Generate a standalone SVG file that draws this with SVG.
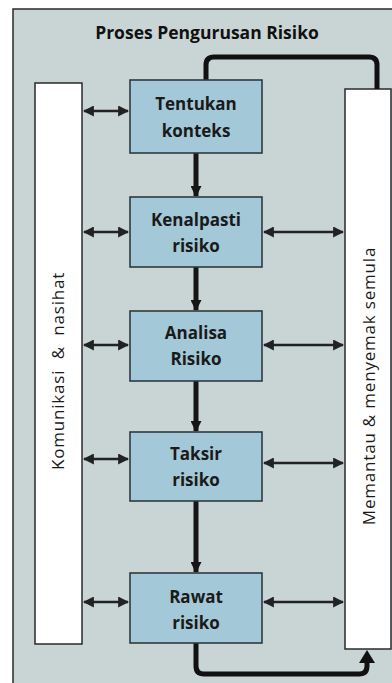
<svg xmlns="http://www.w3.org/2000/svg" width="392" height="683" viewBox="0 0 392 683">
<style>
.frame{fill:#c9d5d5;stroke:#2a2a2a;stroke-width:1.5}
.side{fill:#ffffff;stroke:#2a2a2a;stroke-width:1.5}
.box{fill:#a3c8d8;stroke:#2e3a40;stroke-width:1.6}
.t{font-family:"Open Sans","Liberation Sans",sans-serif;font-weight:bold;font-size:17px;fill:#1a1a1a;text-anchor:middle}
.title{font-family:"Open Sans","Liberation Sans",sans-serif;font-weight:bold;font-size:17.5px;fill:#111;text-anchor:middle}
.vt{font-family:"Open Sans","Liberation Sans",sans-serif;font-size:17px;letter-spacing:0.8px;fill:#1a1a1a;text-anchor:middle}
.dbl{stroke:#222;stroke-width:2.5;fill:none;marker-start:url(#ah);marker-end:url(#ah)}
.down{stroke:#151515;stroke-width:5;fill:none;marker-end:url(#dh)}
.loop{stroke:#111;stroke-width:5;fill:none}
</style>
<defs>
<marker id="ah" viewBox="0 0 10 10" refX="9" refY="5" markerWidth="4.4" markerHeight="4.4" orient="auto-start-reverse" markerUnits="strokeWidth">
<path d="M0,0 L10,5 L0,10 z" fill="#222"/>
</marker>
<marker id="dh" viewBox="0 0 10 10" refX="9" refY="5" markerWidth="2.2" markerHeight="2.2" orient="auto" markerUnits="strokeWidth">
<path d="M0,0 L10,5 L0,10 z" fill="#151515"/>
</marker>
</defs>
<rect x="0" y="0" width="392" height="683" fill="#ffffff"/>
<rect class="frame" x="13" y="9" width="381" height="680"/>
<text class="title" x="207" y="39">Proses Pengurusan Risiko</text>

<g id="komunikasi">
<rect class="side" x="35" y="83" width="47" height="561"/>
<text class="vt" transform="translate(64,371) rotate(-90)" xml:space="preserve">Komunikasi  &amp;  nasihat</text>
</g>
<g id="memantau">
<rect class="side" x="345" y="89" width="46" height="560"/>
<text class="vt" transform="translate(375,386) rotate(-90)">Memantau &amp; menyemak semula</text>
</g>

<g id="connectors">
<path class="loop" d="M206,80 V65 Q206,57 214,57 H369 Q377,57 377,65 V89"/>
<path class="loop" d="M196,643 V666 Q196,674 204,674 H359 Q367,674 367,666 V662"/>
<path d="M359,663 L367,650 L375,663 z" fill="#111"/>
<line class="down" x1="196" y1="153" x2="196" y2="196"/>
<line class="down" x1="196" y1="267" x2="196" y2="310"/>
<line class="down" x1="196" y1="381" x2="196" y2="431"/>
<line class="down" x1="196" y1="501" x2="196" y2="572"/>
<line class="dbl" x1="84" y1="111" x2="128" y2="111"/>
<line class="dbl" x1="84" y1="232" x2="128" y2="232"/>
<line class="dbl" x1="84" y1="345" x2="128" y2="345"/>
<line class="dbl" x1="84" y1="459" x2="128" y2="459"/>
<line class="dbl" x1="84" y1="602" x2="128" y2="602"/>
<line class="dbl" x1="264" y1="232" x2="343" y2="232"/>
<line class="dbl" x1="264" y1="345" x2="343" y2="345"/>
<line class="dbl" x1="264" y1="463" x2="343" y2="463"/>
<line class="dbl" x1="264" y1="602" x2="343" y2="602"/>
</g>

<g id="tentukan">
<rect class="box" x="130" y="80" width="132" height="73"/>
<text class="t" x="196" y="110">Tentukan</text>
<text class="t" x="196" y="137">konteks</text>
</g>
<g id="kenalpasti">
<rect class="box" x="130" y="197" width="132" height="70"/>
<text class="t" x="196" y="226">Kenalpasti</text>
<text class="t" x="196" y="252">risiko</text>
</g>
<g id="analisa">
<rect class="box" x="130" y="311" width="132" height="70"/>
<text class="t" x="196" y="339">Analisa</text>
<text class="t" x="196" y="365">Risiko</text>
</g>
<g id="taksir">
<rect class="box" x="130" y="432" width="132" height="69"/>
<text class="t" x="196" y="460">Taksir</text>
<text class="t" x="196" y="486">risiko</text>
</g>
<g id="rawat">
<rect class="box" x="130" y="573" width="132" height="70"/>
<text class="t" x="196" y="603">Rawat</text>
<text class="t" x="196" y="629">risiko</text>
</g>
</svg>
